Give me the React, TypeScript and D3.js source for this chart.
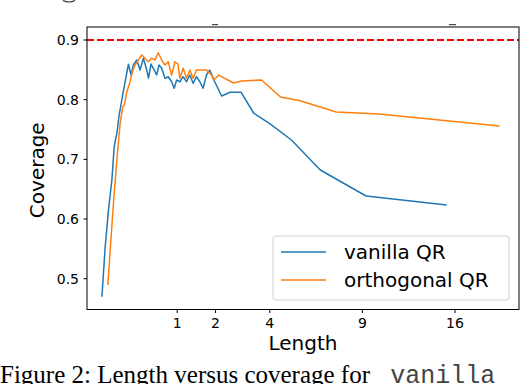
import React from 'react';
import * as d3 from 'd3';

// values (length, coverage)
const vanillaLength = [0.035, 0.0495, 0.0666, 0.0868, 0.102, 0.1214, 0.1392, 0.1617, 0.1915, 0.2238, 0.2522, 0.2776, 0.3175, 0.3587, 0.4025, 0.4502, 0.4766, 0.5144, 0.5505, 0.6061, 0.6452, 0.6927, 0.753, 0.8158, 0.8832, 0.9365, 0.9871, 1.0589, 1.1332, 1.2124, 1.2918, 1.3737, 1.4607, 1.5478, 1.6373, 1.7322, 1.8269, 1.9751, 2.19, 2.47, 2.86, 3.33, 4.03, 4.99, 6.48, 9.24, 15.3];
const vanillaCoverage = [0.4698, 0.5536, 0.6151, 0.6654, 0.7212, 0.7437, 0.7743, 0.7995, 0.8301, 0.8593, 0.8414, 0.8581, 0.8665, 0.8497, 0.8693, 0.8497, 0.8363, 0.8598, 0.8526, 0.8414, 0.8581, 0.8526, 0.8358, 0.8385, 0.8301, 0.8191, 0.833, 0.8301, 0.8385, 0.8301, 0.8414, 0.8274, 0.8385, 0.8301, 0.8191, 0.8414, 0.8497, 0.8301, 0.8062, 0.8124, 0.8124, 0.7777, 0.7592, 0.7324, 0.6822, 0.6386, 0.6235];

const orthoLength = [0.0633, 0.0764, 0.0972, 0.1214, 0.1474, 0.1705, 0.185, 0.2079, 0.2415, 0.2664, 0.2972, 0.3371, 0.381, 0.426, 0.4736, 0.5252, 0.5779, 0.6331, 0.6927, 0.753, 0.8158, 0.8832, 0.9511, 1.0151, 1.0589, 1.1332, 1.2124, 1.2918, 1.3737, 1.4607, 1.5936, 1.7322, 1.8767, 1.945, 2.098, 2.591, 2.876, 3.651, 4.473, 5.379, 7.383, 10.11, 20.08];
const orthoCoverage = [0.4895, 0.5481, 0.6269, 0.6989, 0.7609, 0.7882, 0.7911, 0.8134, 0.8301, 0.8469, 0.8581, 0.8665, 0.8749, 0.8693, 0.8636, 0.8693, 0.8665, 0.8787, 0.8665, 0.8581, 0.8636, 0.8414, 0.8636, 0.8598, 0.8358, 0.8526, 0.8358, 0.8497, 0.8358, 0.8497, 0.8497, 0.8497, 0.8414, 0.833, 0.8413, 0.828, 0.8313, 0.833, 0.8045, 0.7986, 0.7793, 0.776, 0.7559];

const xTicks = [1, 2, 4, 9, 16];
const yTicks = [0.5, 0.6, 0.7, 0.8, 0.9];
const target = 0.9;
const seriesNames = ['vanilla QR', 'orthogonal QR'];
const colors = ['#1f77b4', '#ff7f0e'];

const W = 526;
const H = 384;
const left = 87;
const right = 519;
const top = 27;
const bottom = 309.5;
const font = 'DejaVu Sans, sans-serif';

const App = () => {
    const x = d3.scaleSqrt().domain([0, 22]).range([84.6, 518.9]);
    const y = d3.scaleLinear().domain([0.4484, 0.9218]).range([bottom, top]);

    const line = d3.line<[number, number]>()
        .x(d => x(d[0]))
        .y(d => y(d[1]));

    const series = [
        d3.zip(vanillaLength, vanillaCoverage) as [number, number][],
        d3.zip(orthoLength, orthoCoverage) as [number, number][],
    ];

    return (
        <svg width={W} height={H} style={{ position: 'absolute', left: 0, top: 0, background: '#fff' }}>
            <defs>
                <clipPath id="plot">
                    <rect x={left} y={top} width={right - left} height={bottom - top} />
                </clipPath>
            </defs>

            {/* remnants of the text above the figure */}
            <path d="M63,0.5 Q69,3.5 75,0.5" fill="none" stroke="#333" strokeWidth={1.2} />
            <line x1={212} x2={218} y1={24.7} y2={24.7} stroke="#222" strokeWidth={1} />
            <line x1={449} x2={456} y1={24.7} y2={24.7} stroke="#222" strokeWidth={1} />

            <g clipPath="url(#plot)">
                <line x1={left} x2={right} y1={y(target)} y2={y(target)}
                    stroke="#ff0000" strokeWidth={2} strokeDasharray="7,3" />
                {series.map((s, i) => (
                    <path key={i} d={line(s) || ''} fill="none" stroke={colors[i]}
                        strokeWidth={1.5} strokeLinejoin="round" />
                ))}
            </g>

            <rect x={left} y={top} width={right - left} height={bottom - top}
                fill="none" stroke="#000" strokeWidth={1} />

            {yTicks.map(t => (
                <g key={t}>
                    <line x1={left - 3.5} x2={left} y1={y(t)} y2={y(t)} stroke="#000" strokeWidth={1} />
                    <text x={left - 8} y={y(t)} dy="0.36em" textAnchor="end"
                        fontFamily={font} fontSize={14}>{t.toFixed(1)}</text>
                </g>
            ))}
            {xTicks.map(t => (
                <g key={t}>
                    <line x1={x(t)} x2={x(t)} y1={bottom} y2={bottom + 3.5} stroke="#000" strokeWidth={1} />
                    <text x={x(t)} y={bottom + 18} textAnchor="middle"
                        fontFamily={font} fontSize={14}>{t}</text>
                </g>
            ))}

            <text x={(left + right) / 2} y={350} textAnchor="middle" fontFamily={font} fontSize={20}>Length</text>
            <text transform={`translate(44,${(top + bottom) / 2 + 2}) rotate(-90)`} textAnchor="middle"
                fontFamily={font} fontSize={20}>Coverage</text>

            <g>
                <rect x={273} y={236} width={236} height={64} rx={3} fill="#fff" fillOpacity={0.8}
                    stroke="#d0d0d0" strokeWidth={1} />
                {seriesNames.map((n, i) => (
                    <g key={n}>
                        <line x1={281} x2={326} y1={252 + i * 28} y2={252 + i * 28}
                            stroke={colors[i]} strokeWidth={1.5} />
                        <text x={344} y={252 + i * 28} dy="0.33em" fontFamily={font} fontSize={20}>{n}</text>
                    </g>
                ))}
            </g>

            <text x={0} y={383} fontFamily="Liberation Serif, serif" fontSize={25}>
                Figure 2: Length versus coverage for <tspan dx={14} fontFamily="Liberation Mono, monospace" fill="#444">vanilla</tspan>
            </text>
        </svg>
    );
};

export default App;
